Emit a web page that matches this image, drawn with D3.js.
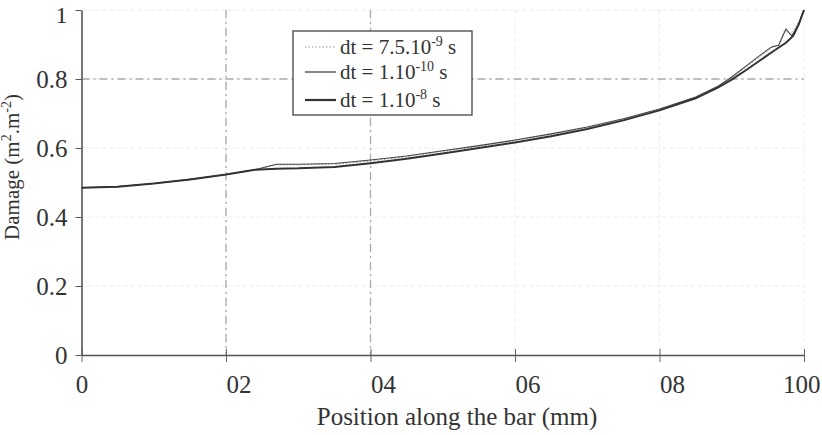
<!DOCTYPE html>
<html>
<head>
<meta charset="utf-8">
<script src="https://cdn.jsdelivr.net/npm/d3@7"></script>
<style>
  body { margin: 0; background: #fff; }
  text { font-family: "Liberation Serif", "Times New Roman", serif; fill: #333; }
</style>
</head>
<body>
<div id="chart"></div>
<script>
// data (x in mm, damage in m2.m-2)
const xTicks = [0, 20, 40, 60, 80, 100];
const xTickLabels = ["0", "02", "04", "06", "08", "100"];
const yTicks = [0, 0.2, 0.4, 0.6, 0.8, 1];
const yTickLabels = ["0", "0.2", "0.4", "0.6", "0.8", "1"];

const posThick = [0, 5, 10, 15, 20, 24, 27, 30, 35, 40, 45, 50, 55, 60, 65, 70, 75, 80, 85, 88, 90, 92, 94, 96, 97.5, 98.5, 99.3, 100];
const dmgThick = [0.485, 0.488, 0.497, 0.509, 0.523, 0.537, 0.540, 0.541, 0.545, 0.556, 0.569, 0.584, 0.600, 0.616, 0.634, 0.655, 0.680, 0.709, 0.744, 0.774, 0.798, 0.826, 0.855, 0.884, 0.905, 0.925, 0.96, 1.0];

const posThin = [0, 5, 10, 15, 20, 24, 26, 27, 30, 35, 40, 45, 50, 55, 60, 65, 70, 75, 80, 85, 88, 90, 92, 94, 95.5, 96.5, 97.5, 98.3, 99.2, 100];
const dmgThin = [0.485, 0.488, 0.497, 0.509, 0.523, 0.537, 0.548, 0.553, 0.553, 0.555, 0.565, 0.577, 0.592, 0.607, 0.623, 0.641, 0.661, 0.685, 0.713, 0.748, 0.778, 0.806, 0.838, 0.870, 0.893, 0.898, 0.945, 0.925, 0.955, 1.0];

const posDot = [0, 5, 10, 15, 20, 24, 26, 27, 30, 35, 40, 45, 50, 55, 60, 65, 70, 75, 80, 85, 88, 90, 92, 94, 95.5, 96.5, 97.3, 98.1, 99, 100];
const dmgDot = [0.485, 0.488, 0.497, 0.509, 0.523, 0.537, 0.546, 0.551, 0.551, 0.553, 0.562, 0.575, 0.590, 0.605, 0.621, 0.639, 0.659, 0.683, 0.711, 0.746, 0.776, 0.803, 0.835, 0.866, 0.890, 0.900, 0.940, 0.930, 0.955, 1.0];

const seriesNames = ["dt = 7.5.10", "dt = 1.10", "dt = 1.10"];
const seriesExps = ["-9", "-10", "-8"];

const width = 822, height = 435;
const margin = { top: 10, right: 18, bottom: 80, left: 81.5 };
const chartWidth = width - margin.left - margin.right;
const chartHeight = height - margin.top - margin.bottom;

const svg = d3.select("#chart").append("svg").attr("width", width).attr("height", height);
const g = svg.append("g").attr("transform", `translate(${margin.left},${margin.top})`);

const xScale = d3.scaleLinear().domain([0, 100]).range([0, chartWidth]);
const yScale = d3.scaleLinear().domain([0, 1]).range([chartHeight, 0]);

// faint grid at every tick
g.selectAll("line.vgrid").data(xTicks.slice(1)).enter().append("line")
  .attr("x1", d => xScale(d)).attr("x2", d => xScale(d))
  .attr("y1", 0).attr("y2", chartHeight)
  .attr("stroke", "#ececec").attr("stroke-dasharray", "4,3");
g.selectAll("line.hgrid").data(yTicks.slice(1)).enter().append("line")
  .attr("y1", d => yScale(d)).attr("y2", d => yScale(d))
  .attr("x1", 0).attr("x2", chartWidth)
  .attr("stroke", "#ececec").attr("stroke-dasharray", "4,3");

// darker dash-dot reference lines
g.selectAll("line.vref").data([20, 40]).enter().append("line")
  .attr("x1", d => xScale(d)).attr("x2", d => xScale(d))
  .attr("y1", 0).attr("y2", chartHeight)
  .attr("stroke", "#aaa").attr("stroke-width", 1.3).attr("stroke-dasharray", "8,4,2,4");
g.selectAll("line.href").data([0.8]).enter().append("line")
  .attr("y1", d => yScale(d)).attr("y2", d => yScale(d))
  .attr("x1", 0).attr("x2", chartWidth)
  .attr("stroke", "#aaa").attr("stroke-width", 1.3).attr("stroke-dasharray", "8,4,2,4");

// axes
const xAxis = d3.axisBottom(xScale).tickValues(xTicks).tickSize(7).tickSizeOuter(0)
  .tickFormat((d, i) => xTickLabels[i]);
const yAxis = d3.axisLeft(yScale).tickValues(yTicks).tickSize(6).tickSizeOuter(0)
  .tickFormat((d, i) => yTickLabels[i]);

const gx = g.append("g").attr("transform", `translate(0,${chartHeight})`).call(xAxis);
gx.selectAll(".tick line").attr("y1", -6).attr("stroke", "#666");
gx.select(".domain").attr("stroke", "#555").attr("stroke-width", 1.6);
gx.selectAll(".tick text")
  .attr("y", 38).attr("dy", null)
  .attr("text-anchor", (d, i) => i === 0 ? "middle" : (i === xTicks.length - 1 ? "end" : "start"))
  .attr("dx", (d, i) => i === xTicks.length - 1 ? 16 : 0)
  .style("font-size", "25px").style("font-family", "Liberation Serif").attr("fill", "#333");

const gy = g.append("g").call(yAxis);
gy.selectAll(".tick line").attr("x2", -6).attr("x1", 0).attr("stroke", "#555");
gy.select(".domain").attr("stroke", "#555").attr("stroke-width", 1.6);
gy.selectAll(".tick text").attr("x", -14)
  .attr("dy", (d, i) => i === yTicks.length - 1 ? "0.5em" : "0.34em")
  .style("font-size", (d, i) => i === yTicks.length - 1 ? "24px" : "25px")
  .style("font-family", "Liberation Serif").attr("fill", "#333");

// curves
const line = d3.line().x(d => xScale(d[0])).y(d => yScale(d[1]));
const thick = posThick.map((p, i) => [p, dmgThick[i]]);
const thin = posThin.map((p, i) => [p, dmgThin[i]]);
const dotted = posDot.map((p, i) => [p, dmgDot[i]]);

g.append("path").datum(dotted).attr("d", line).attr("fill", "none")
  .attr("stroke", "#999").attr("stroke-width", 1).attr("stroke-dasharray", "1.5,2");
g.append("path").datum(thin).attr("d", line).attr("fill", "none")
  .attr("stroke", "#444").attr("stroke-width", 1.1);
g.append("path").datum(thick).attr("d", line).attr("fill", "none")
  .attr("stroke", "#333").attr("stroke-width", 2);

// legend
const legend = svg.append("g").attr("transform", "translate(293,31)");
legend.append("rect").attr("width", 179).attr("height", 84)
  .attr("fill", "#fff").attr("stroke", "#444").attr("stroke-width", 1.3);
const styles = [
  { stroke: "#999", w: 1.2, dash: "1.5,2" },
  { stroke: "#444", w: 1.3, dash: null },
  { stroke: "#333", w: 2.2, dash: null }
];
const rowY = [16, 41, 69];
seriesNames.forEach((name, i) => {
  legend.append("line").attr("x1", 12).attr("x2", 43).attr("y1", rowY[i]).attr("y2", rowY[i])
    .attr("stroke", styles[i].stroke).attr("stroke-width", styles[i].w)
    .attr("stroke-dasharray", styles[i].dash);
  const t = legend.append("text").attr("x", 47).attr("y", rowY[i] + 7).style("font-size", "21px");
  t.append("tspan").text(name);
  t.append("tspan").attr("dy", "-8").style("font-size", "14px").text(seriesExps[i]);
  t.append("tspan").attr("dy", "8").text(" s");
});

// axis titles
svg.append("text").attr("x", 457).attr("y", 425)
  .attr("text-anchor", "middle").style("font-size", "25px").text("Position along the bar (mm)");

const yt = svg.append("text").attr("transform", "translate(19,167) rotate(-90)")
  .attr("text-anchor", "middle").style("font-size", "21px");
yt.append("tspan").text("Damage (m");
yt.append("tspan").attr("dy", "-8").style("font-size", "14px").text("2");
yt.append("tspan").attr("dy", "8").text(".m");
yt.append("tspan").attr("dy", "-8").style("font-size", "14px").text("-2");
yt.append("tspan").attr("dy", "8").text(")");
</script>
</body>
</html>
